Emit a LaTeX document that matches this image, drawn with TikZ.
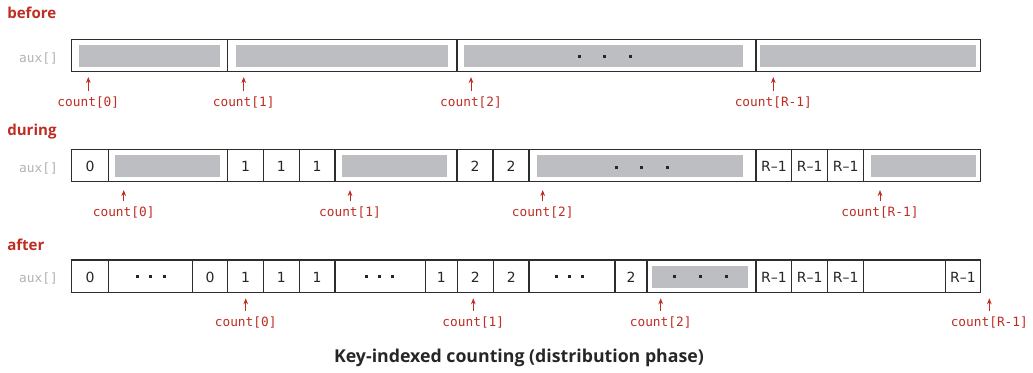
\documentclass[tikz,border=0pt]{standalone}
\usepackage{fontspec}
\setmainfont{PT Sans}
\setmonofont{DejaVu Sans Mono}
\newfontfamily\cellfont{DejaVu Sans}
\newfontfamily\headfont{Open Sans}
\usetikzlibrary{arrows.meta}
\definecolor{myred}{RGB}{190,45,35}
\definecolor{mygray}{RGB}{189,190,193}
\definecolor{auxgray}{RGB}{178,178,178}
\definecolor{border}{RGB}{45,45,45}
\newcommand\mydots[4]{\foreach \dx in {#1,#2,#3}{\fill[dotmark] (\dx-1.5,#4-1.5) rectangle ++(3,3);}}
\begin{document}
\begin{tikzpicture}[x=0.75pt,y=-0.75pt,
  boxline/.style={draw=border,line width=1.1pt},
  divline/.style={draw=border,line width=1pt},
  grayfill/.style={fill=mygray},
  dotmark/.style={fill=black!85},
  celltext/.style={font=\cellfont\fontsize{10.5}{12}\selectfont,text=black!85,inner sep=0pt,anchor=base},
  ptrlabel/.style={font=\ttfamily\fontsize{9.6}{11}\selectfont,text=myred,inner sep=0pt,anchor=base},
  ptr/.style={draw=myred,line width=0.75pt,shorten <=3.5pt,-{Stealth[length=4.5pt,width=3.5pt]}},
  rowlabel/.style={font=\headfont\bfseries\fontsize{11.3}{13}\selectfont,text=myred,inner sep=0pt,anchor=base west},
  auxlabel/.style={font=\ttfamily\fontsize{9.6}{11}\selectfont,text=auxgray,inner sep=0pt,anchor=base east},
  titlelabel/.style={font=\headfont\bfseries\fontsize{13.3}{15}\selectfont,text=black!85,inner sep=0pt,anchor=base}
]
\useasboundingbox (0,0) rectangle (1033,372);

% ---------------- before ----------------
\node[rowlabel] (lbefore) at (7,18.3) {before};
\node[auxlabel] (aux1) at (58,62) {aux[]};
\foreach \a/\b in {79/220,236/447.7,464/743,760/976}{\fill[grayfill] (\a,45) rectangle (\b,66.7);}
\mydots{579}{604.3}{630}{56.3}
\draw[boxline] (71.7,39.3) rectangle (980.7,71.3);
\foreach \x in {227.3,457,756}{\draw[divline] (\x,39.3) -- (\x,71.3);}
\foreach \i/\x/\t in {a/88.3/0,b/243.7/1,c/471/2,d/773.3/R-1}{
  \node[ptrlabel] (c1\i) at (\x,106) {count[\t]};
  \coordinate (t1\i) at (\x,77);
  \draw[ptr] (c1\i.north) -- (t1\i);
}

% ---------------- during ----------------
\node[rowlabel] (lduring) at (7,135) {during};
\node[auxlabel] (aux2) at (58,172.3) {aux[]};
\foreach \a/\b in {115/220,342/446.7,537/743,871/976}{\fill[grayfill] (\a,155.3) rectangle (\b,176.7);}
\mydots{616}{641.7}{667.7}{167.3}
\draw[boxline] (71.7,149.3) rectangle (980.7,181.7);
\foreach \x in {108.3,227.7,263.3,299.3,335,457,493,529,756,791.7,827.7,863.7}{\draw[divline] (\x,149.3) -- (\x,181.7);}
\foreach \i/\x/\t in {a/90/0,b/245.5/1,c/281.3/1,d/317.2/1,e/475/2,f/511/2,g/773.9/R–1,h/809.7/R–1,k/845.7/R–1}{
  \node[celltext] (v2\i) at (\x,171.7) {\t};
}
\foreach \i/\x/\t in {a/123.7/0,b/350/1,c/542.7/2,d/880/R-1}{
  \node[ptrlabel] (c2\i) at (\x,216) {count[\t]};
  \coordinate (t2\i) at (\x,190);
  \draw[ptr] (c2\i.north) -- (t2\i);
}

% ---------------- after ----------------
\node[rowlabel] (lafter) at (7,250.7) {after};
\node[auxlabel] (aux3) at (58,282.3) {aux[]};
\fill[grayfill] (652,265.7) rectangle (747.7,287.7);
\mydots{674}{700.7}{726}{276.7}
\mydots{137}{150.7}{164}{276.7}
\mydots{366}{379}{392.3}{276.7}
\mydots{556}{569.3}{582.7}{276.7}
\draw[boxline] (71.7,260) rectangle (980.7,292.3);
\foreach \x in {108.3,192.7,227.7,263.3,299.3,335,425.3,457.3,493.3,529,615,647,756,791.7,827.7,863.7,945.3}{\draw[divline] (\x,260) -- (\x,292.3);}
\foreach \i/\x/\t in {a/90/0,b/210.2/0,c/245.5/1,d/281.3/1,e/317.2/1,f/441.3/1,g/475.3/2,h/511.2/2,k/631/2,m/773.9/R–1,n/809.7/R–1,p/845.7/R–1,q/963/R–1}{
  \node[celltext] (v3\i) at (\x,282.4) {\t};
}
\foreach \i/\x/\t in {a/245.7/0,b/473.3/1,c/660.7/2,d/989.3/R-1}{
  \node[ptrlabel] (c3\i) at (\x,326) {count[\t]};
  \coordinate (t3\i) at (\x,298.3);
  \draw[ptr] (c3\i.north) -- (t3\i);
}

\node[titlelabel] (title) at (519,362) {Key-indexed counting (distribution phase)};
\end{tikzpicture}
\end{document}
